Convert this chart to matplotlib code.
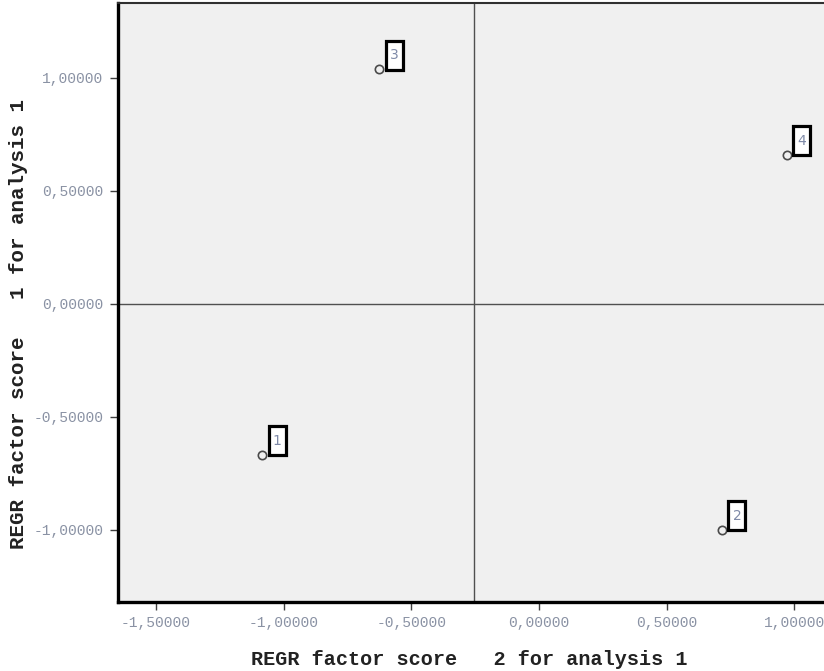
import numpy as np
import matplotlib
matplotlib.use("Agg")
import matplotlib.pyplot as plt
from matplotlib.patches import Rectangle
from matplotlib.transforms import ScaledTranslation
from matplotlib.ticker import FuncFormatter

# factor scores per case
case_ids = ["1", "2", "3", "4"]
score2 = [-1.084, 0.716, -0.625, 0.970]   # x: REGR factor score 2
score1 = [-0.669, -1.000, 1.038, 0.658]   # y: REGR factor score 1

x_ticks = [-1.5, -1.0, -0.5, 0.0, 0.5, 1.0]
y_ticks = [-1.0, -0.5, 0.0, 0.5, 1.0]
ref_x = -0.253
ref_y = 0.0

fig = plt.figure(figsize=(8.24, 6.71), dpi=100)
ax = fig.add_axes([0.1432, 0.1033, 0.883, 0.8927])
ax.set_facecolor("#f0f0f0")

ax.set_xlim(-1.648, 1.2)
ax.set_ylim(-1.319, 1.332)

# reference lines
ax.axvline(ref_x, color="#505050", lw=1.0, zorder=1)
ax.axhline(ref_y, color="#505050", lw=1.0, zorder=1)

ax.plot(score2, score1, linestyle="none", marker="o", markersize=6,
        markerfacecolor="none", markeredgecolor="#4a4a4a", markeredgewidth=1.2,
        zorder=3)

# boxed case labels, offset from each point in pixels
px = 1 / fig.dpi
for cid, x, y in zip(case_ids, score2, score1):
    trans = fig.dpi_scale_trans + ScaledTranslation(x, y, ax.transData)
    ax.add_patch(Rectangle((6.5 * px, -0.5 * px), 17 * px, 29 * px,
                           transform=trans, facecolor="white",
                           edgecolor="black", lw=2.3, zorder=4,
                           clip_on=False))
    ax.text(15 * px, 14 * px, cid, transform=trans, ha="center",
            va="center", fontsize=10, color="#7f8aa8", family="DejaVu Sans",
            zorder=5)

fmt = FuncFormatter(lambda v, p: f"{v:.5f}".replace(".", ","))
ax.set_xticks(x_ticks)
ax.set_yticks(y_ticks)
ax.xaxis.set_major_formatter(fmt)
ax.yaxis.set_major_formatter(fmt)
ax.tick_params(axis="both", direction="out", length=5.5, width=1.0,
               color="#404040", labelsize=10.5, labelcolor="#8a92a4", pad=5)
for lab in ax.get_xticklabels() + ax.get_yticklabels():
    lab.set_family("Liberation Mono")

for side in ["left", "bottom"]:
    ax.spines[side].set_linewidth(2.4)
    ax.spines[side].set_color("black")
ax.spines["top"].set_linewidth(1.5)
ax.spines["top"].set_color("#303030")
ax.spines["right"].set_visible(False)

ax.set_xlabel("REGR factor score   2 for analysis 1", family="Liberation Mono",
              fontweight="bold", fontsize=14.5, color="#222222")
ax.set_ylabel("REGR factor score   1 for analysis 1", family="Liberation Mono",
              fontweight="bold", fontsize=15, color="#222222")
ax.xaxis.set_label_coords((469 - 118) / (0.883 * 824), -(650 - 601.7) / (0.8927 * 671))
ax.yaxis.set_label_coords(-(118 - 28) / (0.883 * 824), (601.7 - 324) / (0.8927 * 671))

fig.savefig("out.png", dpi=100)
